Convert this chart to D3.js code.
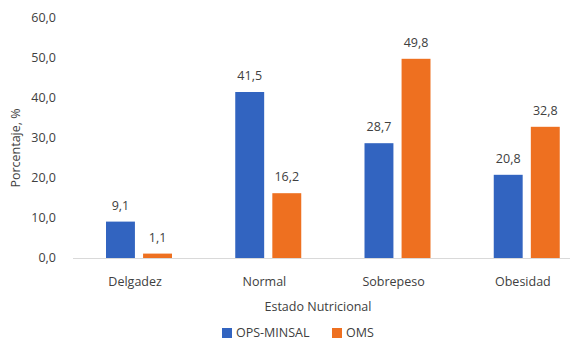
<html>
  <head>
    <script src="https://d3js.org/d3.v7.min.js"></script>
    <style>
      body { margin: 0; background: #fff; }
      text { font-family: "Open Sans", sans-serif; fill: #404040; }
    </style>
  </head>
  <body>
    <svg id="chart" width="570" height="344"></svg>
    <script>
      // data
      const categories = ["Delgadez", "Normal", "Sobrepeso", "Obesidad"];
      const seriesNames = ["OPS-MINSAL", "OMS"];
      const opsMinsal = [9.1, 41.5, 28.7, 20.8];
      const oms = [1.1, 16.2, 49.8, 32.8];
      const yTicks = [0, 10, 20, 30, 40, 50, 60];
      const colors = ["#3264c0", "#ee7020"];

      const svg = d3.select("#chart");
      const fmt = (v) => d3.format(".1f")(v).replace(".", ",");

      // plot area runs a bit past the right edge, like the original crop
      const x = d3.scaleBand().domain(categories).range([74, 591]);
      const x1 = d3.scaleBand().domain(seriesNames).range([32, 98]).paddingInner(0.22);
      const y = d3.scaleLinear().domain([0, 60]).range([258, 18]);

      // y tick labels
      svg.append("g")
        .selectAll("text")
        .data(yTicks)
        .join("text")
        .attr("x", 56)
        .attr("y", (d) => y(d))
        .attr("dy", "0.35em")
        .attr("text-anchor", "end")
        .style("font-size", "12.5px")
        .text(fmt);

      // baseline
      svg.append("line")
        .attr("x1", 73).attr("x2", 591)
        .attr("y1", y(0) + 0.5).attr("y2", y(0) + 0.5)
        .attr("stroke", "#d9d9d9");

      const series = [opsMinsal, oms];
      const groups = svg.append("g")
        .selectAll("g")
        .data(categories)
        .join("g")
        .attr("transform", (d) => `translate(${x(d)},0)`);

      groups.selectAll("rect")
        .data((c, i) => seriesNames.map((s, k) => ({ s, k, v: series[k][i] })))
        .join("rect")
        .attr("x", (d) => x1(d.s))
        .attr("width", x1.bandwidth())
        .attr("y", (d) => y(d.v))
        .attr("height", (d) => y(0) - y(d.v))
        .attr("fill", (d) => colors[d.k]);

      groups.selectAll("text.val")
        .data((c, i) => seriesNames.map((s, k) => ({ s, k, v: series[k][i] })))
        .join("text")
        .attr("class", "val")
        .attr("x", (d) => x1(d.s) + x1.bandwidth() / 2)
        .attr("y", (d) => y(d.v) - 12)
        .attr("text-anchor", "middle")
        .style("font-size", "12.5px")
        .text((d) => fmt(d.v));

      // category labels
      svg.append("g")
        .selectAll("text")
        .data(categories)
        .join("text")
        .attr("x", (d) => x(d) + x.bandwidth() / 2 - 3.5)
        .attr("y", 286)
        .attr("text-anchor", "middle")
        .style("font-size", "12.5px")
        .text((d) => d);

      // axis titles
      svg.append("text")
        .attr("x", 318).attr("y", 311)
        .attr("text-anchor", "middle")
        .style("font-size", "12.5px")
        .text("Estado Nutricional");

      svg.append("text")
        .attr("transform", "translate(20,148) rotate(-90)")
        .attr("text-anchor", "middle")
        .style("font-size", "12.5px")
        .text("Porcentaje, %");

      // legend
      const legendX = [222, 332];
      const legend = svg.append("g")
        .selectAll("g")
        .data(seriesNames)
        .join("g")
        .attr("transform", (d, i) => `translate(${legendX[i]},328)`);
      legend.append("rect")
        .attr("width", 10).attr("height", 10)
        .attr("fill", (d, i) => colors[i]);
      legend.append("text")
        .attr("x", 14).attr("y", 5)
        .attr("dy", "0.35em")
        .style("font-size", "12.5px")
        .text((d) => d);
    </script>
  </body>
</html>
